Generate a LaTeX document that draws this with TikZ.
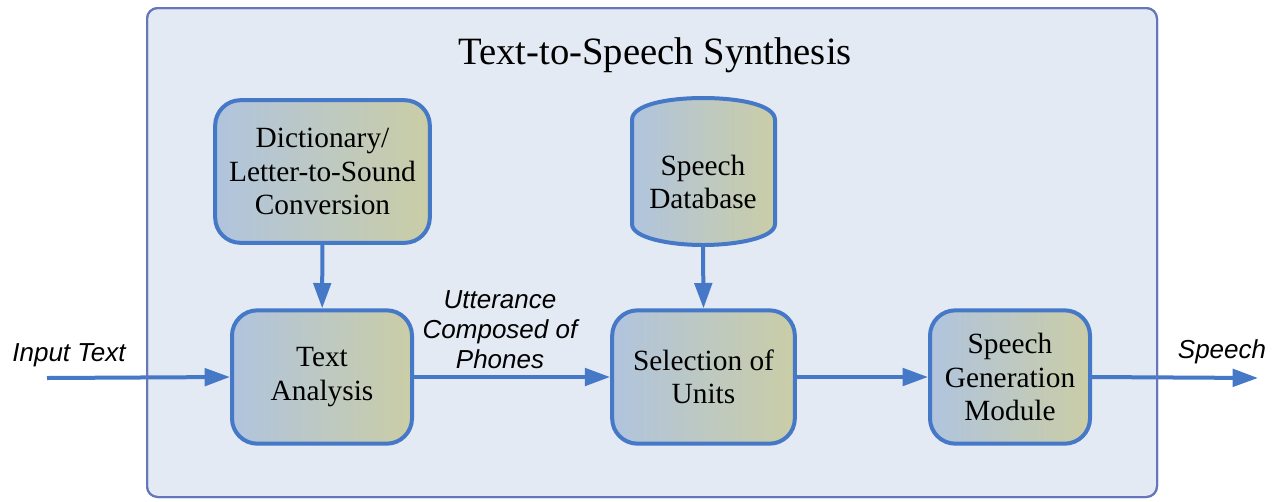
\documentclass[tikz,border=0pt]{standalone}
\usepackage{fontspec}
\setmainfont{Liberation Serif}
\setsansfont{Liberation Sans}
\usetikzlibrary{arrows.meta,positioning}

\definecolor{flowblue}{RGB}{70,120,200}
\definecolor{panelline}{RGB}{100,118,188}
\definecolor{panelfill}{RGB}{228,234,243}
\definecolor{shadeleft}{RGB}{176,196,222}
\definecolor{shaderight}{RGB}{202,205,166}

\tikzset{every picture/.style={line width=0.75pt}}
\tikzset{
  stagebox/.style={draw=flowblue, line width=3pt, rounded corners=19pt,
    left color=shadeleft, right color=shaderight, align=center,
    font=\fontsize{22}{25}\selectfont, inner sep=0pt},
  flowarrow/.style={draw=flowblue, line width=3pt, -{Triangle[length=19pt,width=13pt]}},
  flowlabel/.style={font=\sffamily\itshape\fontsize{19.5}{22.5}\selectfont, align=center, inner sep=0pt}
}

\begin{document}
\begin{tikzpicture}[x=0.75pt,y=0.75pt,yscale=-1,xscale=1]
\useasboundingbox (0,0) rectangle (1276,501);

%Rounded Rect: synthesis panel
\draw [draw=panelline, fill=panelfill, line width=1.5pt, rounded corners=8pt] (147,8) rectangle (1157,497);
% Text Node
\node (title) at (655,55) {\fontsize{29}{34}\selectfont Text-to-Speech Synthesis};

%Shape: Rounded Rect
\node [stagebox, minimum width=161pt, minimum height=107pt] (dict) at (322.5,171.5) {Dictionary/\\Letter-to-Sound\\Conversion};
\node [stagebox, minimum width=135pt, minimum height=100pt] (analysis) at (322,377) {Text\\Analysis};
\node [stagebox, minimum width=137pt, minimum height=100pt] (select) at (703.5,377) {Selection of\\Units};
\node [stagebox, minimum width=120pt, minimum height=100pt] (generate) at (1010,377) {Speech\\Generation\\Module};

%Shape: Database
\draw [draw=flowblue, line width=3pt, left color=shadeleft, right color=shaderight]
  (632,224) -- (632,120) .. controls (632,104) and (670,98) .. (703,98)
  .. controls (736,98) and (775,104) .. (775,120) -- (775,224)
  .. controls (775,238) and (736,245) .. (703,245)
  .. controls (670,245) and (632,238) .. (632,224) -- cycle;
\node [align=center, font=\fontsize{22}{25}\selectfont, minimum height=96pt, inner sep=0pt] (db) at (703,182) {Speech\\Database};

\coordinate (textin) at (47,378);
\coordinate (speechout) at (1258,378);

%Straight Lines
\draw [flowarrow] (textin) -- (analysis.west);
\draw [flowarrow] (dict) -- (analysis);
\draw [flowarrow] (analysis) -- (select);
\draw [flowarrow] (db.south) -- (select.north);
\draw [flowarrow] (select) -- (generate);
\draw [flowarrow] (generate.east) -- (speechout);

%panel edge over the arrows
\draw [draw=panelline, line width=1.5pt, rounded corners=8pt] (147,8) rectangle (1157,497);

% Text Node
\node [flowlabel] (inlabel) at (69,355) {Input Text};
\node [flowlabel] (uttlabel) at (500,330) {Utterance\\Composed of\\Phones};
\node [flowlabel] (outlabel) at (1222,352) {Speech};

\end{tikzpicture}
\end{document}
